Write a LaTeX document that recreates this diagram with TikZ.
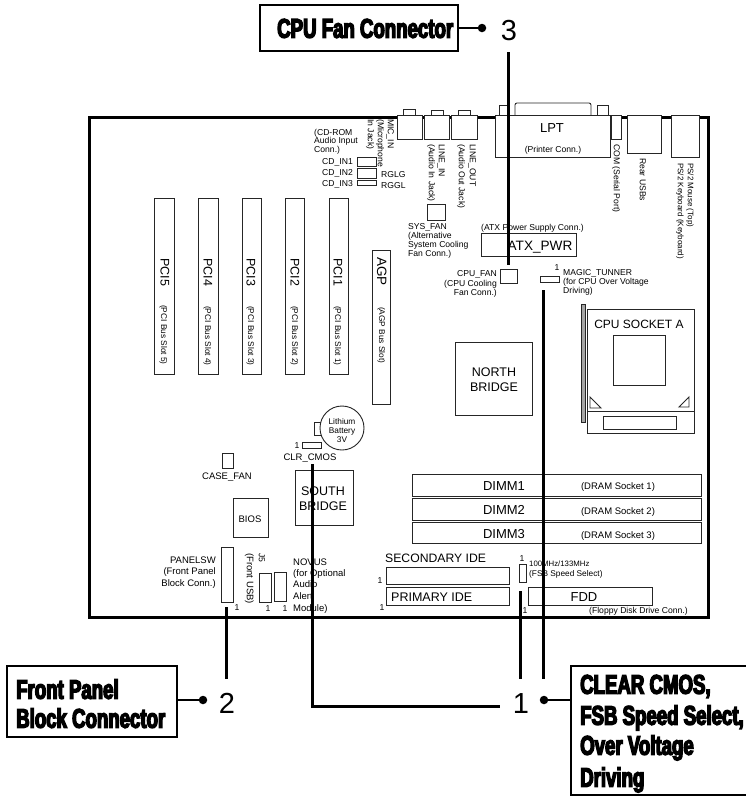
\documentclass[tikz,border=0pt]{standalone}
\usepackage{fontspec}
\setmainfont{Liberation Sans}
\newfontfamily\heavyfont[FakeBold=5,FakeStretch=0.69]{Liberation Sans Bold}
\tikzset{
  x=1pt,y=-1pt,
  part/.style={draw=black!85,line width=0.9pt},
  frame/.style={draw=black,line width=3pt},
  lead/.style={draw=black,line width=3pt},
  stub/.style={draw=black,line width=1.6pt},
  callout/.style={draw=black,line width=2.6pt,fill=white,inner sep=0pt},
  pin/.style={circle,fill=black,inner sep=0pt,minimum size=8.5pt},
  txt/.style={inner sep=0pt,text=black},
  sm/.style={txt,font=\fontsize{8.6}{10}\selectfont,text height=6.2pt,text depth=0pt},
  xs/.style={txt,font=\fontsize{8.3}{9}\selectfont,text height=6pt,text depth=0pt},
  md/.style={txt,font=\fontsize{10.5}{12}\selectfont,text height=7.5pt,text depth=0pt},
  lg/.style={txt,font=\fontsize{13}{15}\selectfont,text height=9.3pt,text depth=0pt},
  num/.style={txt,font=\fontsize{29}{30}\selectfont,text height=21pt,text depth=0pt},
  hv/.style={txt,anchor=west,font=\fontsize{27}{30}\heavyfont\selectfont,text height=19.5pt,text depth=0pt},
  down/.style={rotate=-90,anchor=west},
}
\begin{document}
\begin{tikzpicture}
\useasboundingbox (0,0) rectangle (746,796);
% board
\draw[frame,fill=white] (89,117) rectangle (708,617);
% rear panel
\foreach \a/\b/\c/\d in {403/109/415/115,431/110/443/115,458/110/470/115,499/105/507/115,597/105/608/115}
  \draw[part,fill=white] (\a,\b) rectangle (\c,\d);
\draw[part,fill=white] (515,115) -- (515,105) to[out=90,in=180] (517,103) -- (589,103) to[out=0,in=90] (591,105) -- (591,115);
\foreach \a/\b/\c/\d in {397/115/422/139,424/115/449/139,451/115/477/139,495/115/610/157,611/115/621/139,627/115/661/153,671/115/699/157}
  \draw[part,fill=white] (\a,\b) rectangle (\c,\d);
\node[lg] (lpt) at (552,128) {LPT};
\node[sm] (lptb) at (553,149) {(Printer Conn.)};
\node[sm,down] (micA) at (391,119) {MIC\_IN};
\node[sm,down] (micB) at (381,119) {(Microphone};
\node[sm,down] (micC) at (371,119) {In Jack)};
\node[sm,down] (linA) at (442,144) {LINE\_IN};
\node[sm,down] (linB) at (432,144) {(Audio In Jack)};
\node[sm,down] (loutA) at (473,144) {LINE\_OUT};
\node[sm,down] (loutB) at (462,144) {(Audio Out Jack)};
\node[sm,down] (com) at (617,144) {COM (Serial Port)};
\node[sm,down] (rusb) at (643,158) {Rear USBs};
\node[sm,down,font=\fontsize{8}{10}\selectfont] (psA) at (691,163) {PS/2 Mouse (Top)};
\node[sm,down,font=\fontsize{8}{10}\selectfont] (psB) at (681,163) {PS/2 Keyboard (Keyboard)};
% CD
\node[sm,anchor=west] (cdA) at (314,132) {(CD-ROM};
\node[sm,anchor=west] (cdB) at (314,140.5) {Audio Input};
\node[sm,anchor=west] (cdC) at (314,149) {Conn.)};
\node[sm,anchor=east] (cd1) at (353,161) {CD\_IN1};
\node[sm,anchor=east] (cd2) at (353,172) {CD\_IN2};
\node[sm,anchor=east] (cd3) at (353,183) {CD\_IN3};
\draw[part] (357,157) rectangle (376,166);
\draw[part] (357,168) rectangle (376,178);
\draw[part] (357,180) rectangle (376,185);
\node[sm,anchor=west] (rglg) at (381,174) {RGLG};
\node[sm,anchor=west] (rggl) at (381,185) {RGGL};
% fans and power
\draw[part] (427,204) rectangle (445,220);
\node[sm,anchor=west] (sysA) at (408,226) {SYS\_FAN};
\node[sm,anchor=west] (sysB) at (408,235) {(Alternative};
\node[sm,anchor=west] (sysC) at (408,244) {System Cooling};
\node[sm,anchor=west] (sysD) at (408,253) {Fan Conn.)};
\node[sm,anchor=west] (atxT) at (481,227) {(ATX Power Supply Conn.)};
\draw[part] (481,233) rectangle (576,256);
\node[lg,font=\fontsize{13.6}{16}\selectfont] (atx) at (540,246) {ATX\_PWR};
\draw[part] (500,269) rectangle (517,283);
\node[sm,anchor=east] (cfA) at (497,273) {CPU\_FAN};
\node[sm,anchor=east] (cfB) at (497,283) {(CPU Cooling};
\node[sm,anchor=east] (cfC) at (497,292) {Fan Conn.)};
\draw[part] (540,276) rectangle (559,282);
\node[sm] (mt1) at (557,267) {1};
\node[sm,anchor=west] (mtA) at (563,272) {MAGIC\_TUNNER};
\node[sm,anchor=west] (mtB) at (563,281) {(for CPU Over Voltage};
\node[sm,anchor=west] (mtC) at (563,290) {Driving)};
% slots
\foreach \a/\b in {154/174,198/218,242/261,285/304,329/348}
  \draw[part] (\a,198) rectangle (\b,374);
\draw[part] (372,250) rectangle (390,404);
\node[md,down,font=\fontsize{12.5}{14}\selectfont,text height=9pt] (p5) at (165,258) {PCI5};
\node[md,down,font=\fontsize{12.5}{14}\selectfont,text height=9pt] (p4) at (208,258) {PCI4};
\node[md,down,font=\fontsize{12.5}{14}\selectfont,text height=9pt] (p3) at (251,258) {PCI3};
\node[md,down,font=\fontsize{12.5}{14}\selectfont,text height=9pt] (p2) at (295,258) {PCI2};
\node[md,down,font=\fontsize{12.5}{14}\selectfont,text height=9pt] (p1) at (338,258) {PCI1};
\node[md,down,font=\fontsize{13.5}{15}\selectfont,text height=10pt] (agp) at (382,257) {AGP};
\node[xs,down] (b5) at (164,305) {(PCI Bus Slot 5)};
\node[xs,down] (b4) at (208,306) {(PCI Bus Slot 4)};
\node[xs,down] (b3) at (251,306) {(PCI Bus Slot 3)};
\node[xs,down] (b2) at (295,306) {(PCI Bus Slot 2)};
\node[xs,down] (b1) at (338,306) {(PCI Bus Slot 1)};
\node[xs,down] (bg) at (382,307) {(AGP Bus Slot)};
% battery, bridges
\draw[part] (314,422) rectangle (321,435);
\draw[part,fill=white] (342,428) circle (22);
\node[xs] (batA) at (342,421) {Lithium};
\node[xs] (batB) at (342,430) {Battery};
\node[xs] (batC) at (342,439) {3V};
\draw[part] (302,442) rectangle (321,448);
\node[sm] (clr1) at (297,445) {1};
\node[sm,font=\fontsize{9.5}{11}\selectfont] (clr) at (310,457) {CLR\_CMOS};
\draw[part] (222,453) rectangle (233,468);
\node[sm,font=\fontsize{9.5}{11}\selectfont] (casef) at (227,476) {CASE\_FAN};
\draw[part] (295,470) rectangle (353,525);
\node[lg,font=\fontsize{12.5}{14}\selectfont] (sbA) at (323,491) {SOUTH};
\node[lg,font=\fontsize{12.5}{14}\selectfont] (sbB) at (323,506) {BRIDGE};
\draw[part] (233,498) rectangle (268,537);
\node[md,font=\fontsize{9.5}{11}\selectfont,text height=7pt] (bios) at (250,519) {BIOS};
\draw[part] (455,342) rectangle (532,415);
\node[lg,font=\fontsize{12.5}{14}\selectfont] (nbA) at (494,372) {NORTH};
\node[lg,font=\fontsize{12.5}{14}\selectfont] (nbB) at (494,387) {BRIDGE};
% CPU
\draw[part,fill=black!35] (581,304) rectangle (585,422);
\draw[part] (587,309) rectangle (694,433);
\draw[part] (587,411) -- (694,411);
\node[lg,font=\fontsize{12}{14}\selectfont] (sock) at (639,324) {CPU SOCKET A};
\draw[part] (613,335) rectangle (665,385);
\draw[part] (603,416) rectangle (676,429);
\draw[part] (590,397) -- (590,408) -- (601,408) -- cycle;
\draw[part] (689,397) -- (689,407) -- (679,407) -- cycle;
% DIMM
\draw[part] (412,474) rectangle (701,496);
\draw[part] (412,498) rectangle (701,520);
\draw[part] (412,522) rectangle (701,543);
\node[lg] (d1) at (504,486) {DIMM1};
\node[lg] (d2) at (504,510) {DIMM2};
\node[lg] (d3) at (504,534) {DIMM3};
\node[md,font=\fontsize{9.5}{11}\selectfont,text height=7pt] (s1) at (618,486) {(DRAM Socket 1)};
\node[md,font=\fontsize{9.5}{11}\selectfont,text height=7pt] (s2) at (618,511) {(DRAM Socket 2)};
\node[md,font=\fontsize{9.5}{11}\selectfont,text height=7pt] (s3) at (618,535) {(DRAM Socket 3)};
% bottom row
\draw[part] (221,547) rectangle (233,602);
\node[sm,font=\fontsize{9.5}{11}\selectfont,anchor=east] (psA2) at (216,560) {PANELSW};
\node[sm,font=\fontsize{9.5}{11}\selectfont,anchor=east] (psB2) at (216,571) {(Front Panel};
\node[sm,font=\fontsize{9.5}{11}\selectfont,anchor=east] (psC2) at (216,583) {Block Conn.)};
\node[sm] (ps1) at (237,607) {1};
\node[sm,down] (j5) at (262,553) {J5};
\node[sm,down,font=\fontsize{9.5}{11}\selectfont] (j5b) at (250,553) {(Front USB)};
\draw[part] (259,573) rectangle (271,602);
\draw[part] (274,572) rectangle (286,601);
\node[sm] (j51) at (268,608) {1};
\node[sm] (j52) at (285,608) {1};
\node[sm,font=\fontsize{9.5}{11}\selectfont,anchor=west] (nvA) at (293,562) {NOVUS};
\node[sm,font=\fontsize{9.5}{11}\selectfont,anchor=west] (nvB) at (293,573) {(for Optional};
\node[sm,font=\fontsize{9.5}{11}\selectfont,anchor=west] (nvC) at (293,584) {Audio};
\node[sm,font=\fontsize{9.5}{11}\selectfont,anchor=west] (nvD) at (293,596) {Alert};
\node[sm,font=\fontsize{9.5}{11}\selectfont,anchor=west] (nvE) at (293,608) {Module)};
\node[lg,font=\fontsize{12.2}{14}\selectfont,anchor=west] (sec) at (385,558) {SECONDARY IDE};
\draw[part] (386,567) rectangle (509,584);
\node[sm] (sec1) at (380,580) {1};
\draw[part] (386,587) rectangle (509,605);
\node[lg,font=\fontsize{12.5}{14}\selectfont,anchor=west] (pri) at (391,597) {PRIMARY IDE};
\node[sm] (pri1) at (382,607) {1};
\node[sm] (fsb1) at (522,558) {1};
\draw[part] (519,564) rectangle (526,582);
\node[xs,anchor=west,font=\fontsize{7.8}{9}\selectfont] (fsbA) at (529,563) {100MHz/133MHz};
\node[xs,anchor=west] (fsbB) at (529,573) {(FSB Speed Select)};
\draw[part] (528,587) rectangle (652,605);
\node[lg] (fdd) at (584,597) {FDD};
\node[sm] (fdd1) at (525,610) {1};
\node[sm,anchor=west] (fddT) at (589,610.5) {(Floppy Disk Drive Conn.)};
% callouts
\node[callout,minimum width=198pt,minimum height=46pt] (cpuBox) at (359,28) {};
\node[hv] (cpuT) at (277,28) {CPU Fan Connector};
\node[pin] (pin3) at (482,28) {};
\node[num] (n3) at (509,30) {3};
\draw[stub] (cpuBox) -- (pin3);
\coordinate (l3a) at (508,52);
\coordinate (l3b) at (508,265);
\draw[lead] (l3a) -- (l3b);
\node[callout,minimum width=170pt,minimum height=71pt] (fpBox) at (92,701.5) {};
\node[hv] (fpA) at (16,689) {Front Panel};
\node[hv] (fpB) at (16,718) {Block Connector};
\node[pin] (pin2) at (203,700) {};
\node[num] (n2) at (227,703) {2};
\draw[stub] (fpBox.east |- pin2) -- (pin2);
\coordinate (l2a) at (226,607);
\coordinate (l2b) at (226,679);
\draw[lead] (l2a) -- (l2b);
\node[callout,minimum width=180pt,minimum height=129pt] (rBox) at (661,730.5) {};
\node[hv] (rA) at (580,684) {CLEAR CMOS,};
\node[hv] (rB) at (580,715) {FSB Speed Select,};
\node[hv] (rC) at (580,745) {Over Voltage};
\node[hv] (rD) at (580,777) {Driving};
\node[pin] (pin1) at (544,700) {};
\node[num] (n1) at (521,703) {1};
\draw[stub] (rBox.west |- pin1) -- (pin1);
\coordinate (l1a) at (520,591);
\coordinate (l1b) at (520,679);
\draw[lead] (l1a) -- (l1b);
\coordinate (l1c) at (543,290);
\coordinate (l1d) at (543,679);
\draw[lead] (l1c) -- (l1d);
\coordinate (l1e) at (312,464);
\coordinate (l1f) at (312,706);
\coordinate (l1g) at (500,706);
\draw[lead,line join=miter] (l1e) -- (l1f) -- (l1g);
\end{tikzpicture}
\end{document}
